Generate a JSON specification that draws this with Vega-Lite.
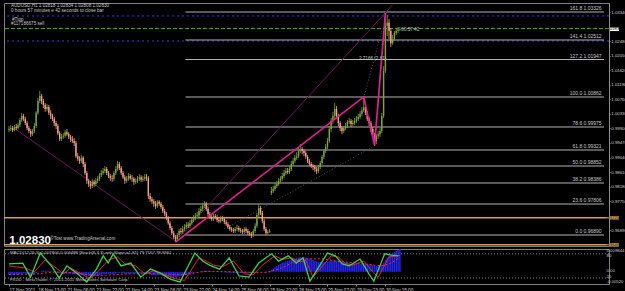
{
"$schema": "https://vega.github.io/schema/vega-lite/v6.json",
"background": "#000000",
"padding": {"left": 2, "top": 2, "right": 0, "bottom": 0},
"spacing": 3,
"bounds": "flush",
"config": {
  "view": {"stroke": "#808080", "strokeWidth": 1},
  "axis": {"labelFont": "Liberation Sans", "labelFontSize": 4.6, "labelColor": "#d0d0d0", "domainColor": "#909090", "tickColor": "#909090", "tickSize": 1.5, "grid": false, "labelPadding": 1, "labelOverlap": false, "labelBound": false},
  "axisY": {"labelFontSize": 4.3, "tickSize": 1, "labelPadding": 0.8},
  "text": {"font": "Liberation Sans", "fontSize": 5, "color": "#d0d0d0"}
},
"datasets": {
  "bars": [
{"i":0,"o":0.9985,"h":0.9997,"l":0.9979,"c":0.9988,"m":-0.0014},
{"i":1,"o":0.9988,"h":1.0000,"l":0.9982,"c":0.9991,"m":-0.0015},
{"i":2,"o":0.9991,"h":0.9997,"l":0.9979,"c":0.9985,"m":-0.0015},
{"i":3,"o":0.9985,"h":1.0000,"l":0.9982,"c":0.9994,"m":-0.0014},
{"i":4,"o":0.9994,"h":1.0003,"l":0.9985,"c":0.9991,"m":-0.0013},
{"i":5,"o":0.9991,"h":1.0006,"l":0.9988,"c":1.0000,"m":-0.0012},
{"i":6,"o":1.0000,"h":1.0021,"l":0.9994,"c":1.0015,"m":-0.0010},
{"i":7,"o":1.0015,"h":1.0036,"l":1.0009,"c":1.0027,"m":-0.0008},
{"i":8,"o":1.0027,"h":1.0033,"l":1.0012,"c":1.0018,"m":-0.0007},
{"i":9,"o":1.0018,"h":1.0024,"l":1.0000,"c":1.0006,"m":-0.0007},
{"i":10,"o":1.0006,"h":1.0012,"l":0.9985,"c":0.9991,"m":-0.0008},
{"i":11,"o":0.9991,"h":0.9997,"l":0.9976,"c":0.9982,"m":-0.0009},
{"i":12,"o":0.9982,"h":0.9988,"l":0.9965,"c":0.9973,"m":-0.0010},
{"i":13,"o":0.9973,"h":0.9988,"l":0.9968,"c":0.9982,"m":-0.0010},
{"i":14,"o":0.9982,"h":1.0006,"l":0.9976,"c":0.9997,"m":-0.0009},
{"i":15,"o":0.9997,"h":1.0041,"l":0.9991,"c":1.0036,"m":-0.0006},
{"i":16,"o":1.0036,"h":1.0080,"l":1.0030,"c":1.0071,"m":-0.0002},
{"i":17,"o":1.0071,"h":1.0101,"l":1.0065,"c":1.0086,"m":0.0002},
{"i":18,"o":1.0086,"h":1.0092,"l":1.0062,"c":1.0071,"m":0.0004},
{"i":19,"o":1.0071,"h":1.0077,"l":1.0050,"c":1.0059,"m":0.0005},
{"i":20,"o":1.0059,"h":1.0065,"l":1.0039,"c":1.0047,"m":0.0005},
{"i":21,"o":1.0047,"h":1.0062,"l":1.0041,"c":1.0053,"m":0.0005},
{"i":22,"o":1.0053,"h":1.0059,"l":1.0030,"c":1.0036,"m":0.0004},
{"i":23,"o":1.0036,"h":1.0044,"l":1.0018,"c":1.0027,"m":0.0003},
{"i":24,"o":1.0027,"h":1.0033,"l":1.0012,"c":1.0018,"m":0.0002},
{"i":25,"o":1.0018,"h":1.0024,"l":0.9997,"c":1.0006,"m":0.0000},
{"i":26,"o":1.0006,"h":1.0012,"l":0.9988,"c":0.9997,"m":-0.0002},
{"i":27,"o":0.9997,"h":1.0003,"l":0.9971,"c":0.9976,"m":-0.0004},
{"i":28,"o":0.9976,"h":0.9982,"l":0.9953,"c":0.9959,"m":-0.0006},
{"i":29,"o":0.9959,"h":0.9973,"l":0.9953,"c":0.9965,"m":-0.0007},
{"i":30,"o":0.9965,"h":0.9976,"l":0.9959,"c":0.9968,"m":-0.0008},
{"i":31,"o":0.9968,"h":0.9985,"l":0.9962,"c":0.9979,"m":-0.0008},
{"i":32,"o":0.9979,"h":0.9988,"l":0.9968,"c":0.9973,"m":-0.0008},
{"i":33,"o":0.9973,"h":0.9979,"l":0.9959,"c":0.9965,"m":-0.0008},
{"i":34,"o":0.9965,"h":0.9971,"l":0.9950,"c":0.9959,"m":-0.0008},
{"i":35,"o":0.9959,"h":0.9968,"l":0.9947,"c":0.9953,"m":-0.0009},
{"i":36,"o":0.9953,"h":0.9962,"l":0.9938,"c":0.9947,"m":-0.0009},
{"i":37,"o":0.9947,"h":0.9953,"l":0.9903,"c":0.9908,"m":-0.0011},
{"i":38,"o":0.9908,"h":0.9917,"l":0.9894,"c":0.9900,"m":-0.0012},
{"i":39,"o":0.9900,"h":0.9908,"l":0.9885,"c":0.9894,"m":-0.0013},
{"i":40,"o":0.9894,"h":0.9911,"l":0.9888,"c":0.9903,"m":-0.0013},
{"i":41,"o":0.9903,"h":0.9908,"l":0.9876,"c":0.9885,"m":-0.0014},
{"i":42,"o":0.9885,"h":0.9891,"l":0.9852,"c":0.9858,"m":-0.0015},
{"i":43,"o":0.9858,"h":0.9864,"l":0.9826,"c":0.9835,"m":-0.0017},
{"i":44,"o":0.9835,"h":0.9841,"l":0.9817,"c":0.9826,"m":-0.0018},
{"i":45,"o":0.9826,"h":0.9835,"l":0.9811,"c":0.9820,"m":-0.0019},
{"i":46,"o":0.9820,"h":0.9841,"l":0.9814,"c":0.9832,"m":-0.0018},
{"i":47,"o":0.9832,"h":0.9838,"l":0.9817,"c":0.9826,"m":-0.0018},
{"i":48,"o":0.9826,"h":0.9843,"l":0.9820,"c":0.9835,"m":-0.0017},
{"i":49,"o":0.9835,"h":0.9849,"l":0.9829,"c":0.9841,"m":-0.0016},
{"i":50,"o":0.9841,"h":0.9858,"l":0.9835,"c":0.9852,"m":-0.0014},
{"i":51,"o":0.9852,"h":0.9867,"l":0.9846,"c":0.9858,"m":-0.0012},
{"i":52,"o":0.9858,"h":0.9873,"l":0.9852,"c":0.9864,"m":-0.0011},
{"i":53,"o":0.9864,"h":0.9879,"l":0.9858,"c":0.9870,"m":-0.0009},
{"i":54,"o":0.9870,"h":0.9876,"l":0.9852,"c":0.9858,"m":-0.0009},
{"i":55,"o":0.9858,"h":0.9864,"l":0.9843,"c":0.9849,"m":-0.0009},
{"i":56,"o":0.9849,"h":0.9855,"l":0.9835,"c":0.9843,"m":-0.0009},
{"i":57,"o":0.9843,"h":0.9852,"l":0.9832,"c":0.9841,"m":-0.0009},
{"i":58,"o":0.9841,"h":0.9864,"l":0.9835,"c":0.9858,"m":-0.0008},
{"i":59,"o":0.9858,"h":0.9879,"l":0.9852,"c":0.9870,"m":-0.0006},
{"i":60,"o":0.9870,"h":0.9894,"l":0.9864,"c":0.9885,"m":-0.0004},
{"i":61,"o":0.9885,"h":0.9891,"l":0.9867,"c":0.9873,"m":-0.0004},
{"i":62,"o":0.9873,"h":0.9879,"l":0.9852,"c":0.9858,"m":-0.0005},
{"i":63,"o":0.9858,"h":0.9864,"l":0.9841,"c":0.9846,"m":-0.0006},
{"i":64,"o":0.9846,"h":0.9852,"l":0.9826,"c":0.9835,"m":-0.0007},
{"i":65,"o":0.9835,"h":0.9849,"l":0.9829,"c":0.9841,"m":-0.0007},
{"i":66,"o":0.9841,"h":0.9858,"l":0.9835,"c":0.9849,"m":-0.0007},
{"i":67,"o":0.9849,"h":0.9855,"l":0.9838,"c":0.9843,"m":-0.0007},
{"i":68,"o":0.9843,"h":0.9852,"l":0.9832,"c":0.9841,"m":-0.0007},
{"i":69,"o":0.9841,"h":0.9846,"l":0.9823,"c":0.9832,"m":-0.0007},
{"i":70,"o":0.9832,"h":0.9843,"l":0.9826,"c":0.9835,"m":-0.0007},
{"i":71,"o":0.9835,"h":0.9849,"l":0.9829,"c":0.9841,"m":-0.0007},
{"i":72,"o":0.9841,"h":0.9855,"l":0.9835,"c":0.9846,"m":-0.0006},
{"i":73,"o":0.9846,"h":0.9852,"l":0.9832,"c":0.9838,"m":-0.0006},
{"i":74,"o":0.9838,"h":0.9849,"l":0.9832,"c":0.9841,"m":-0.0006},
{"i":75,"o":0.9841,"h":0.9855,"l":0.9835,"c":0.9846,"m":-0.0006},
{"i":76,"o":0.9846,"h":0.9855,"l":0.9835,"c":0.9843,"m":-0.0006},
{"i":77,"o":0.9843,"h":0.9849,"l":0.9781,"c":0.9790,"m":-0.0009},
{"i":78,"o":0.9790,"h":0.9799,"l":0.9773,"c":0.9781,"m":-0.0011},
{"i":79,"o":0.9781,"h":0.9787,"l":0.9767,"c":0.9775,"m":-0.0013},
{"i":80,"o":0.9775,"h":0.9781,"l":0.9758,"c":0.9767,"m":-0.0014},
{"i":81,"o":0.9767,"h":0.9775,"l":0.9752,"c":0.9761,"m":-0.0015},
{"i":82,"o":0.9761,"h":0.9778,"l":0.9755,"c":0.9773,"m":-0.0015},
{"i":83,"o":0.9773,"h":0.9778,"l":0.9761,"c":0.9767,"m":-0.0015},
{"i":84,"o":0.9767,"h":0.9773,"l":0.9752,"c":0.9758,"m":-0.0016},
{"i":85,"o":0.9758,"h":0.9764,"l":0.9740,"c":0.9746,"m":-0.0017},
{"i":86,"o":0.9746,"h":0.9752,"l":0.9731,"c":0.9737,"m":-0.0018},
{"i":87,"o":0.9737,"h":0.9743,"l":0.9719,"c":0.9725,"m":-0.0019},
{"i":88,"o":0.9725,"h":0.9731,"l":0.9705,"c":0.9710,"m":-0.0020},
{"i":89,"o":0.9710,"h":0.9716,"l":0.9690,"c":0.9696,"m":-0.0021},
{"i":90,"o":0.9696,"h":0.9702,"l":0.9675,"c":0.9681,"m":-0.0022},
{"i":91,"o":0.9681,"h":0.9687,"l":0.9663,"c":0.9669,"m":-0.0023},
{"i":92,"o":0.9669,"h":0.9675,"l":0.9654,"c":0.9663,"m":-0.0023},
{"i":93,"o":0.9663,"h":0.9681,"l":0.9657,"c":0.9675,"m":-0.0022},
{"i":94,"o":0.9675,"h":0.9693,"l":0.9669,"c":0.9687,"m":-0.0020},
{"i":95,"o":0.9687,"h":0.9696,"l":0.9678,"c":0.9684,"m":-0.0018},
{"i":96,"o":0.9684,"h":0.9702,"l":0.9678,"c":0.9693,"m":-0.0016},
{"i":97,"o":0.9693,"h":0.9707,"l":0.9687,"c":0.9699,"m":-0.0014},
{"i":98,"o":0.9699,"h":0.9713,"l":0.9693,"c":0.9705,"m":-0.0012},
{"i":99,"o":0.9705,"h":0.9713,"l":0.9696,"c":0.9702,"m":-0.0010},
{"i":100,"o":0.9702,"h":0.9719,"l":0.9696,"c":0.9710,"m":-0.0008},
{"i":101,"o":0.9710,"h":0.9728,"l":0.9705,"c":0.9719,"m":-0.0006},
{"i":102,"o":0.9719,"h":0.9734,"l":0.9713,"c":0.9725,"m":-0.0004},
{"i":103,"o":0.9725,"h":0.9740,"l":0.9719,"c":0.9731,"m":-0.0002},
{"i":104,"o":0.9731,"h":0.9743,"l":0.9725,"c":0.9734,"m":0.0000},
{"i":105,"o":0.9734,"h":0.9755,"l":0.9728,"c":0.9746,"m":0.0002},
{"i":106,"o":0.9746,"h":0.9761,"l":0.9740,"c":0.9752,"m":0.0003},
{"i":107,"o":0.9752,"h":0.9770,"l":0.9746,"c":0.9761,"m":0.0004},
{"i":108,"o":0.9761,"h":0.9775,"l":0.9755,"c":0.9767,"m":0.0005},
{"i":109,"o":0.9767,"h":0.9773,"l":0.9746,"c":0.9752,"m":0.0005},
{"i":110,"o":0.9752,"h":0.9758,"l":0.9731,"c":0.9737,"m":0.0004},
{"i":111,"o":0.9737,"h":0.9743,"l":0.9722,"c":0.9728,"m":0.0003},
{"i":112,"o":0.9728,"h":0.9734,"l":0.9716,"c":0.9722,"m":0.0002},
{"i":113,"o":0.9722,"h":0.9737,"l":0.9716,"c":0.9731,"m":0.0001},
{"i":114,"o":0.9731,"h":0.9737,"l":0.9722,"c":0.9728,"m":0.0000},
{"i":115,"o":0.9728,"h":0.9734,"l":0.9713,"c":0.9719,"m":-0.0001},
{"i":116,"o":0.9719,"h":0.9725,"l":0.9710,"c":0.9716,"m":-0.0001},
{"i":117,"o":0.9716,"h":0.9731,"l":0.9710,"c":0.9725,"m":-0.0002},
{"i":118,"o":0.9725,"h":0.9731,"l":0.9716,"c":0.9722,"m":-0.0002},
{"i":119,"o":0.9722,"h":0.9728,"l":0.9707,"c":0.9713,"m":-0.0002},
{"i":120,"o":0.9713,"h":0.9719,"l":0.9702,"c":0.9707,"m":-0.0003},
{"i":121,"o":0.9707,"h":0.9713,"l":0.9693,"c":0.9699,"m":-0.0003},
{"i":122,"o":0.9699,"h":0.9705,"l":0.9687,"c":0.9693,"m":-0.0004},
{"i":123,"o":0.9693,"h":0.9699,"l":0.9684,"c":0.9690,"m":-0.0004},
{"i":124,"o":0.9690,"h":0.9696,"l":0.9681,"c":0.9687,"m":-0.0005},
{"i":125,"o":0.9687,"h":0.9699,"l":0.9681,"c":0.9693,"m":-0.0005},
{"i":126,"o":0.9693,"h":0.9705,"l":0.9687,"c":0.9696,"m":-0.0005},
{"i":127,"o":0.9696,"h":0.9702,"l":0.9684,"c":0.9690,"m":-0.0005},
{"i":128,"o":0.9690,"h":0.9696,"l":0.9681,"c":0.9687,"m":-0.0005},
{"i":129,"o":0.9687,"h":0.9693,"l":0.9678,"c":0.9684,"m":-0.0005},
{"i":130,"o":0.9684,"h":0.9699,"l":0.9678,"c":0.9693,"m":-0.0005},
{"i":131,"o":0.9693,"h":0.9699,"l":0.9681,"c":0.9687,"m":-0.0005},
{"i":132,"o":0.9687,"h":0.9693,"l":0.9675,"c":0.9681,"m":-0.0005},
{"i":133,"o":0.9681,"h":0.9687,"l":0.9672,"c":0.9678,"m":-0.0005},
{"i":134,"o":0.9678,"h":0.9684,"l":0.9666,"c":0.9675,"m":-0.0005},
{"i":135,"o":0.9675,"h":0.9693,"l":0.9669,"c":0.9687,"m":-0.0005},
{"i":136,"o":0.9687,"h":0.9710,"l":0.9681,"c":0.9702,"m":-0.0004},
{"i":137,"o":0.9702,"h":0.9740,"l":0.9696,"c":0.9734,"m":-0.0002},
{"i":138,"o":0.9734,"h":0.9767,"l":0.9728,"c":0.9755,"m":0.0000},
{"i":139,"o":0.9755,"h":0.9761,"l":0.9734,"c":0.9740,"m":0.0001},
{"i":140,"o":0.9740,"h":0.9746,"l":0.9710,"c":0.9716,"m":0.0000},
{"i":141,"o":0.9716,"h":0.9722,"l":0.9687,"c":0.9693,"m":-0.0001},
{"i":142,"o":0.9693,"h":0.9699,"l":0.9675,"c":0.9681,"m":-0.0002},
{"i":143,"o":0.9681,"h":0.9690,"l":0.9678,"c":0.9684,"m":-0.0002},
{"i":144,"o":0.9684,"h":0.9693,"l":0.9681,"c":0.9687,"m":-0.0002},
{"i":145,"o":0.9799,"h":0.9817,"l":0.9793,"c":0.9805,"m":0.0008},
{"i":146,"o":0.9805,"h":0.9820,"l":0.9799,"c":0.9811,"m":0.0014},
{"i":147,"o":0.9811,"h":0.9829,"l":0.9805,"c":0.9820,"m":0.0020},
{"i":148,"o":0.9820,"h":0.9835,"l":0.9814,"c":0.9826,"m":0.0025},
{"i":149,"o":0.9826,"h":0.9843,"l":0.9820,"c":0.9835,"m":0.0030},
{"i":150,"o":0.9835,"h":0.9849,"l":0.9829,"c":0.9841,"m":0.0034},
{"i":151,"o":0.9841,"h":0.9858,"l":0.9835,"c":0.9849,"m":0.0038},
{"i":152,"o":0.9849,"h":0.9867,"l":0.9843,"c":0.9858,"m":0.0041},
{"i":153,"o":0.9858,"h":0.9873,"l":0.9852,"c":0.9864,"m":0.0044},
{"i":154,"o":0.9864,"h":0.9873,"l":0.9855,"c":0.9861,"m":0.0047},
{"i":155,"o":0.9861,"h":0.9879,"l":0.9855,"c":0.9870,"m":0.0050},
{"i":156,"o":0.9870,"h":0.9894,"l":0.9864,"c":0.9885,"m":0.0053},
{"i":157,"o":0.9885,"h":0.9903,"l":0.9879,"c":0.9894,"m":0.0056},
{"i":158,"o":0.9894,"h":0.9911,"l":0.9888,"c":0.9903,"m":0.0058},
{"i":159,"o":0.9903,"h":0.9920,"l":0.9897,"c":0.9908,"m":0.0060},
{"i":160,"o":0.9908,"h":0.9932,"l":0.9903,"c":0.9923,"m":0.0062},
{"i":161,"o":0.9923,"h":0.9944,"l":0.9917,"c":0.9929,"m":0.0063},
{"i":162,"o":0.9929,"h":0.9935,"l":0.9914,"c":0.9923,"m":0.0063},
{"i":163,"o":0.9923,"h":0.9929,"l":0.9908,"c":0.9917,"m":0.0062},
{"i":164,"o":0.9917,"h":0.9923,"l":0.9900,"c":0.9906,"m":0.0061},
{"i":165,"o":0.9906,"h":0.9911,"l":0.9888,"c":0.9894,"m":0.0059},
{"i":166,"o":0.9894,"h":0.9900,"l":0.9879,"c":0.9885,"m":0.0057},
{"i":167,"o":0.9885,"h":0.9891,"l":0.9873,"c":0.9879,"m":0.0054},
{"i":168,"o":0.9879,"h":0.9885,"l":0.9867,"c":0.9876,"m":0.0051},
{"i":169,"o":0.9876,"h":0.9882,"l":0.9861,"c":0.9870,"m":0.0048},
{"i":170,"o":0.9870,"h":0.9876,"l":0.9855,"c":0.9864,"m":0.0045},
{"i":171,"o":0.9864,"h":0.9882,"l":0.9858,"c":0.9876,"m":0.0043},
{"i":172,"o":0.9876,"h":0.9894,"l":0.9870,"c":0.9888,"m":0.0042},
{"i":173,"o":0.9888,"h":0.9911,"l":0.9882,"c":0.9906,"m":0.0041},
{"i":174,"o":0.9906,"h":0.9929,"l":0.9900,"c":0.9923,"m":0.0041},
{"i":175,"o":0.9923,"h":0.9944,"l":0.9917,"c":0.9935,"m":0.0042},
{"i":176,"o":0.9935,"h":0.9962,"l":0.9929,"c":0.9953,"m":0.0043},
{"i":177,"o":0.9953,"h":0.9997,"l":0.9947,"c":0.9988,"m":0.0045},
{"i":178,"o":0.9988,"h":1.0021,"l":0.9979,"c":1.0012,"m":0.0047},
{"i":179,"o":1.0012,"h":1.0039,"l":1.0003,"c":1.0027,"m":0.0049},
{"i":180,"o":1.0027,"h":1.0065,"l":1.0018,"c":1.0047,"m":0.0050},
{"i":181,"o":1.0047,"h":1.0056,"l":1.0018,"c":1.0027,"m":0.0049},
{"i":182,"o":1.0027,"h":1.0033,"l":0.9997,"c":1.0006,"m":0.0047},
{"i":183,"o":1.0006,"h":1.0012,"l":0.9982,"c":0.9991,"m":0.0045},
{"i":184,"o":0.9991,"h":0.9997,"l":0.9973,"c":0.9982,"m":0.0043},
{"i":185,"o":0.9982,"h":0.9997,"l":0.9976,"c":0.9991,"m":0.0041},
{"i":186,"o":0.9991,"h":1.0006,"l":0.9985,"c":0.9997,"m":0.0039},
{"i":187,"o":0.9997,"h":1.0015,"l":0.9991,"c":1.0009,"m":0.0038},
{"i":188,"o":1.0009,"h":1.0021,"l":1.0003,"c":1.0012,"m":0.0037},
{"i":189,"o":1.0012,"h":1.0018,"l":0.9994,"c":1.0003,"m":0.0036},
{"i":190,"o":1.0003,"h":1.0015,"l":0.9997,"c":1.0006,"m":0.0035},
{"i":191,"o":1.0006,"h":1.0021,"l":1.0000,"c":1.0012,"m":0.0035},
{"i":192,"o":1.0012,"h":1.0027,"l":1.0006,"c":1.0018,"m":0.0035},
{"i":193,"o":1.0018,"h":1.0033,"l":1.0012,"c":1.0024,"m":0.0035},
{"i":194,"o":1.0024,"h":1.0041,"l":1.0018,"c":1.0033,"m":0.0035},
{"i":195,"o":1.0033,"h":1.0053,"l":1.0027,"c":1.0044,"m":0.0036},
{"i":196,"o":1.0044,"h":1.0083,"l":1.0039,"c":1.0053,"m":0.0037},
{"i":197,"o":1.0053,"h":1.0059,"l":1.0030,"c":1.0036,"m":0.0036},
{"i":198,"o":1.0036,"h":1.0041,"l":1.0012,"c":1.0018,"m":0.0034},
{"i":199,"o":1.0018,"h":1.0024,"l":0.9997,"c":1.0006,"m":0.0032},
{"i":200,"o":1.0006,"h":1.0012,"l":0.9979,"c":0.9988,"m":0.0030},
{"i":201,"o":0.9988,"h":0.9994,"l":0.9962,"c":0.9971,"m":0.0028},
{"i":202,"o":0.9971,"h":0.9976,"l":0.9938,"c":0.9953,"m":0.0026},
{"i":203,"o":0.9953,"h":0.9973,"l":0.9944,"c":0.9968,"m":0.0025},
{"i":204,"o":0.9968,"h":0.9982,"l":0.9959,"c":0.9973,"m":0.0025},
{"i":205,"o":0.9973,"h":0.9991,"l":0.9965,"c":0.9982,"m":0.0026},
{"i":206,"o":0.9982,"h":1.0036,"l":0.9976,"c":1.0027,"m":0.0030},
{"i":207,"o":1.0027,"h":1.0174,"l":1.0021,"c":1.0160,"m":0.0040},
{"i":208,"o":1.0160,"h":1.0331,"l":1.0154,"c":1.0293,"m":0.0052},
{"i":209,"o":1.0293,"h":1.0325,"l":1.0263,"c":1.0302,"m":0.0062},
{"i":210,"o":1.0302,"h":1.0313,"l":1.0254,"c":1.0278,"m":0.0070},
{"i":211,"o":1.0278,"h":1.0287,"l":1.0231,"c":1.0242,"m":0.0076},
{"i":212,"o":1.0242,"h":1.0266,"l":1.0237,"c":1.0254,"m":0.0082},
{"i":213,"o":1.0254,"h":1.0278,"l":1.0248,"c":1.0272,"m":0.0086},
{"i":214,"o":1.0272,"h":1.0287,"l":1.0266,"c":1.0278,"m":0.0090},
{"i":215,"o":1.0278,"h":1.0290,"l":1.0272,"c":1.0281,"m":0.0094},
{"i":216,"o":1.0281,"h":1.0290,"l":1.0278,"c":1.0283,"m":0.0097}
  ],
  "fib": [
    {"p":1.0334,"t":"161.8  1.03326"},
    {"p":1.02513,"t":"141.4  1.02512"},
    {"p":1.01936,"t":"127.2  1.01947"},
    {"p":1.00828,"t":"100.0  1.00862"},
    {"p":0.99942,"t":"78.6  0.99975"},
    {"p":0.99262,"t":"61.8  0.99321"},
    {"p":0.98789,"t":"50.0  0.98852"},
    {"p":0.98287,"t":"38.2  0.98386"},
    {"p":0.97666,"t":"23.6  0.97806"},
    {"p":0.9675,"t":"0.0  0.96890"}
  ],
  "zig": [
    {"i":92,"p":0.9654},
    {"i":196,"p":1.0083},
    {"i":202,"p":0.9940},
    {"i":208,"p":1.0331}
  ],
  "thin": [
    {"g":"a","i":3.5,"p":0.9988},
    {"g":"a","i":92,"p":0.9657},
    {"g":"b","i":92,"p":0.9657},
    {"g":"b","i":212,"p":1.0355}
  ],
  "dots": [
    {"g":"c","i":119,"p":0.9693},
    {"g":"c","i":202,"p":0.9938},
    {"g":"d","i":196,"p":1.0080},
    {"g":"d","i":206,"p":1.0278}
  ],
  "kline": [
    {"i":0,"v":55},{"i":7.6,"v":57},{"i":11.9,"v":22},{"i":17.3,"v":82},{"i":23.9,"v":47},{"i":27.7,"v":20},{"i":32,"v":50},{"i":37.5,"v":32},{"i":42.9,"v":10},{"i":48.3,"v":42},{"i":52.1,"v":75},{"i":54.8,"v":57},{"i":57.6,"v":80},{"i":61.9,"v":50},{"i":67.3,"v":57},{"i":72.8,"v":22},{"i":78.2,"v":42},{"i":83.7,"v":32},{"i":89.1,"v":17},{"i":94.5,"v":10},{"i":102.7,"v":82},{"i":107,"v":62},{"i":110.8,"v":52},{"i":116.3,"v":42},{"i":121.7,"v":70},{"i":127.1,"v":25},{"i":132.6,"v":22},{"i":138,"v":57},{"i":145.1,"v":80},{"i":148.9,"v":62},{"i":154.3,"v":75},{"i":158.7,"v":57},{"i":162.5,"v":70},{"i":166.3,"v":12},{"i":176,"v":82},{"i":180.4,"v":75},{"i":184.2,"v":55},{"i":188,"v":50},{"i":194,"v":67},{"i":198.9,"v":30},{"i":201.6,"v":12},{"i":207.6,"v":80},{"i":211.4,"v":77},{"i":215.2,"v":75}
  ],
  "dline": [
    {"i":0,"v":50},{"i":9,"v":45},{"i":14,"v":35},{"i":20,"v":65},{"i":26,"v":45},{"i":30,"v":30},{"i":34,"v":45},{"i":40,"v":30},{"i":45,"v":18},{"i":50,"v":40},{"i":55,"v":65},{"i":60,"v":72},{"i":64,"v":55},{"i":70,"v":50},{"i":75,"v":30},{"i":80,"v":38},{"i":86,"v":28},{"i":92,"v":18},{"i":97,"v":14},{"i":105,"v":70},{"i":109,"v":62},{"i":113,"v":52},{"i":118,"v":48},{"i":124,"v":62},{"i":130,"v":30},{"i":135,"v":28},{"i":140,"v":52},{"i":147,"v":75},{"i":151,"v":66},{"i":156,"v":70},{"i":161,"v":60},{"i":164,"v":64},{"i":168,"v":22},{"i":178,"v":75},{"i":182,"v":72},{"i":186,"v":56},{"i":190,"v":52},{"i":196,"v":62},{"i":201,"v":35},{"i":204,"v":22},{"i":210,"v":72},{"i":216,"v":76}
  ],
  "sig": [
    {"i":0,"m":-0.0011},{"i":15,"m":-0.0009},{"i":25,"m":-0.0001},{"i":35,"m":-0.0005},{"i":50,"m":-0.0015},{"i":65,"m":-0.0009},{"i":80,"m":-0.0008},{"i":95,"m":-0.0012},{"i":110,"m":0.0002},{"i":125,"m":0.0000},{"i":140,"m":-0.0003},{"i":150,"m":0.0015},{"i":162,"m":0.0055},{"i":172,"m":0.0056},{"i":180,"m":0.0047},{"i":195,"m":0.0036},{"i":205,"m":0.0027},{"i":210,"m":0.0035},{"i":216,"m":0.0062}
  ]
},
"vconcat": [
{
  "width": 605, "height": 243,
  "layer": [
    {
      "data": {"values": [{"p":0.9726},{"p":0.9646}]},
      "mark": {"type": "rule", "color": "#d8a048", "strokeWidth": 1.5},
      "encoding": {"y": {"field": "p", "type": "quantitative", "scale": {"domain": [0.96425, 1.03606], "nice": false, "zero": false},
        "axis": {"orient": "right", "title": null, "values": [0.9689, 0.9775, 0.9818, 0.9861, 0.9904, 0.9947, 0.999, 1.0033, 1.0076, 1.0119, 1.0162, 1.0205, 1.0248, 1.0334], "format": ".5f"}}}
    },
    {
      "data": {"values": [{"p":1.03222},{"p":1.02483}]},
      "mark": {"type": "rule", "color": "#3a3ae0", "strokeWidth": 1, "strokeDash": [2, 3]},
      "encoding": {"y": {"field": "p", "type": "quantitative", "scale": {"domain": [0.96425, 1.03606], "nice": false, "zero": false},
        "axis": {"orient": "right", "title": null, "values": [0.9689, 0.9775, 0.9818, 0.9861, 0.9904, 0.9947, 0.999, 1.0033, 1.0076, 1.0119, 1.0162, 1.0205, 1.0248, 1.0334], "format": ".5f"}}}
    },
    {
      "data": {"values": [{"p":1.0285}]},
      "mark": {"type": "rule", "color": "#38b838", "strokeWidth": 1, "strokeDash": [4, 2]},
      "encoding": {"y": {"field": "p", "type": "quantitative", "scale": {"domain": [0.96425, 1.03606], "nice": false, "zero": false},
        "axis": {"orient": "right", "title": null, "values": [0.9689, 0.9775, 0.9818, 0.9861, 0.9904, 0.9947, 0.999, 1.0033, 1.0076, 1.0119, 1.0162, 1.0205, 1.0248, 1.0334], "format": ".5f"}}}
    },
    {
      "data": {"name": "fib"},
      "mark": {"type": "rule", "color": "#b4b4b4", "strokeWidth": 1},
      "encoding": {
        "x": {"datum": 97.5, "type": "quantitative", "scale": {"domain": [0, 328.8], "nice": false, "zero": false}, "axis": null},
        "x2": {"datum": 328.8},
        "y": {"field": "p", "type": "quantitative", "scale": {"domain": [0.96425, 1.03606], "nice": false, "zero": false},
          "axis": {"orient": "right", "title": null, "values": [0.9689, 0.9775, 0.9818, 0.9861, 0.9904, 0.9947, 0.999, 1.0033, 1.0076, 1.0119, 1.0162, 1.0205, 1.0248, 1.0334], "format": ".5f"}}
      }
    },
    {
      "data": {"name": "fib"},
      "mark": {"type": "text", "align": "right", "baseline": "bottom", "dy": -1, "fontSize": 5, "color": "#c8c8c8"},
      "encoding": {
        "x": {"datum": 327.5, "type": "quantitative", "scale": {"domain": [0, 328.8], "nice": false, "zero": false}, "axis": null},
        "y": {"field": "p", "type": "quantitative", "scale": {"domain": [0.96425, 1.03606], "nice": false, "zero": false},
          "axis": {"orient": "right", "title": null, "values": [0.9689, 0.9775, 0.9818, 0.9861, 0.9904, 0.9947, 0.999, 1.0033, 1.0076, 1.0119, 1.0162, 1.0205, 1.0248, 1.0334], "format": ".5f"}},
        "text": {"field": "t"}
      }
    },
    {
      "data": {"name": "thin"},
      "mark": {"type": "line", "color": "#6a1a5e", "strokeWidth": 1},
      "encoding": {
        "x": {"field": "i", "type": "quantitative", "scale": {"domain": [0, 328.8], "nice": false, "zero": false}, "axis": null},
        "y": {"field": "p", "type": "quantitative", "scale": {"domain": [0.96425, 1.03606], "nice": false, "zero": false},
          "axis": {"orient": "right", "title": null, "values": [0.9689, 0.9775, 0.9818, 0.9861, 0.9904, 0.9947, 0.999, 1.0033, 1.0076, 1.0119, 1.0162, 1.0205, 1.0248, 1.0334], "format": ".5f"}},
        "detail": {"field": "g"}
      }
    },
    {
      "data": {"name": "dots"},
      "mark": {"type": "line", "color": "#3c6078", "strokeWidth": 1, "strokeDash": [1, 2]},
      "encoding": {
        "x": {"field": "i", "type": "quantitative", "scale": {"domain": [0, 328.8], "nice": false, "zero": false}, "axis": null},
        "y": {"field": "p", "type": "quantitative", "scale": {"domain": [0.96425, 1.03606], "nice": false, "zero": false},
          "axis": {"orient": "right", "title": null, "values": [0.9689, 0.9775, 0.9818, 0.9861, 0.9904, 0.9947, 0.999, 1.0033, 1.0076, 1.0119, 1.0162, 1.0205, 1.0248, 1.0334], "format": ".5f"}},
        "detail": {"field": "g"}
      }
    },
    {
      "data": {"name": "bars"},
      "mark": {"type": "rule", "strokeWidth": 0.9},
      "encoding": {
        "x": {"field": "i", "type": "quantitative", "scale": {"domain": [0, 328.8], "nice": false, "zero": false}, "axis": null},
        "y": {"field": "l", "type": "quantitative", "scale": {"domain": [0.96425, 1.03606], "nice": false, "zero": false},
          "axis": {"orient": "right", "title": null, "values": [0.9689, 0.9775, 0.9818, 0.9861, 0.9904, 0.9947, 0.999, 1.0033, 1.0076, 1.0119, 1.0162, 1.0205, 1.0248, 1.0334], "format": ".5f"}},
        "y2": {"field": "h"},
        "color": {"condition": {"test": "datum.c >= datum.o", "value": "#6f9a2a"}, "value": "#f0917a"}
      }
    },
    {
      "data": {"name": "bars"},
      "mark": {"type": "bar", "width": 1.4, "orient": "vertical"},
      "encoding": {
        "x": {"field": "i", "type": "quantitative", "scale": {"domain": [0, 328.8], "nice": false, "zero": false}, "axis": null},
        "y": {"field": "o", "type": "quantitative", "scale": {"domain": [0.96425, 1.03606], "nice": false, "zero": false},
          "axis": {"orient": "right", "title": null, "values": [0.9689, 0.9775, 0.9818, 0.9861, 0.9904, 0.9947, 0.999, 1.0033, 1.0076, 1.0119, 1.0162, 1.0205, 1.0248, 1.0334], "format": ".5f"}},
        "y2": {"field": "c"},
        "color": {"condition": {"test": "datum.c >= datum.o", "value": "#7aa830"}, "value": "#f6a08a"}
      }
    },
    {
      "data": {"name": "zig"},
      "mark": {"type": "line", "color": "#e0208e", "strokeWidth": 1.7},
      "encoding": {
        "x": {"field": "i", "type": "quantitative", "scale": {"domain": [0, 328.8], "nice": false, "zero": false}, "axis": null},
        "y": {"field": "p", "type": "quantitative", "scale": {"domain": [0.96425, 1.03606], "nice": false, "zero": false},
          "axis": {"orient": "right", "title": null, "values": [0.9689, 0.9775, 0.9818, 0.9861, 0.9904, 0.9947, 0.999, 1.0033, 1.0076, 1.0119, 1.0162, 1.0205, 1.0248, 1.0334], "format": ".5f"}}
      }
    },
    {
      "data": {"values": [
        {"i":1.1,"p":1.03517,"t":"AUDUSD,H1  1.02818 1.02834 1.02808 1.02830"},
        {"i":1.1,"p":1.03355,"t":"0 hours 57 minutes e 42 seconds to close bar"},
        {"i":1.6,"p":1.03089,"t":"#Ttop"},
        {"i":1.1,"p":1.02971,"t":"#117186675 sell"},
        {"i":22.8,"p":0.96632,"t":"©Tost www.TradingArsenal.com"},
        {"i":193.4,"p":1.01951,"t":"2.7166 (2.61)"},
        {"i":216.8,"p":1.02808,"t":"00:57:42"}
      ]},
      "mark": {"type": "text", "align": "left", "baseline": "middle", "fontSize": 4.6, "color": "#c8c8c8"},
      "encoding": {
        "x": {"field": "i", "type": "quantitative", "scale": {"domain": [0, 328.8], "nice": false, "zero": false}, "axis": null},
        "y": {"field": "p", "type": "quantitative", "scale": {"domain": [0.96425, 1.03606], "nice": false, "zero": false},
          "axis": {"orient": "right", "title": null, "values": [0.9689, 0.9775, 0.9818, 0.9861, 0.9904, 0.9947, 0.999, 1.0033, 1.0076, 1.0119, 1.0162, 1.0205, 1.0248, 1.0334], "format": ".5f"}},
        "text": {"field": "t"}
      }
    },
    {
      "data": {"values": [{"i":0.2,"p":0.96484,"t":"1.02830"}]},
      "mark": {"type": "text", "align": "left", "baseline": "alphabetic", "fontSize": 11.5, "fontWeight": "bold", "color": "#ffffff"},
      "encoding": {
        "x": {"field": "i", "type": "quantitative", "scale": {"domain": [0, 328.8], "nice": false, "zero": false}, "axis": null},
        "y": {"field": "p", "type": "quantitative", "scale": {"domain": [0.96425, 1.03606], "nice": false, "zero": false},
          "axis": {"orient": "right", "title": null, "values": [0.9689, 0.9775, 0.9818, 0.9861, 0.9904, 0.9947, 0.999, 1.0033, 1.0076, 1.0119, 1.0162, 1.0205, 1.0248, 1.0334], "format": ".5f"}},
        "text": {"field": "t"}
      }
    },
    {
      "data": {"values": [{"p":1.0283,"k":"bid"},{"p":0.9726,"k":"line"},{"p":0.9646,"k":"line"}]},
      "mark": {"type": "point", "shape": "M-1,-0.4L1,-0.4L1,0.4L-1,0.4Z", "filled": true, "size": 80, "opacity": 1},
      "encoding": {
        "x": {"datum": 334.6, "type": "quantitative", "scale": {"domain": [0, 328.8], "nice": false, "zero": false}, "axis": null},
        "y": {"field": "p", "type": "quantitative", "scale": {"domain": [0.96425, 1.03606], "nice": false, "zero": false},
          "axis": {"orient": "right", "title": null, "values": [0.9689, 0.9775, 0.9818, 0.9861, 0.9904, 0.9947, 0.999, 1.0033, 1.0076, 1.0119, 1.0162, 1.0205, 1.0248, 1.0334], "format": ".5f"}},
        "color": {"field": "k", "type": "nominal", "scale": {"domain": ["bid", "line"], "range": ["#ffffff", "#d8a048"]}, "legend": null}
      }
    },
    {
      "data": {"values": [{"p":1.0283,"t":"1.02830"},{"p":0.9726,"t":"0.97260"},{"p":0.9646,"t":"0.96460"}]},
      "mark": {"type": "text", "align": "left", "baseline": "middle", "fontSize": 4.3, "color": "#000000"},
      "encoding": {
        "x": {"datum": 330.0, "type": "quantitative", "scale": {"domain": [0, 328.8], "nice": false, "zero": false}, "axis": null},
        "y": {"field": "p", "type": "quantitative", "scale": {"domain": [0.96425, 1.03606], "nice": false, "zero": false},
          "axis": {"orient": "right", "title": null, "values": [0.9689, 0.9775, 0.9818, 0.9861, 0.9904, 0.9947, 0.999, 1.0033, 1.0076, 1.0119, 1.0162, 1.0205, 1.0248, 1.0334], "format": ".5f"}},
        "text": {"field": "t"}
      }
    }
  ]
},
{
  "width": 605, "height": 35,
  "resolve": {"scale": {"y": "independent"}},
  "layer": [
    {
      "data": {"values": [{"v":80},{"v":20}]},
      "mark": {"type": "rule", "color": "#8a8a8a", "strokeWidth": 1, "strokeDash": [1, 2]},
      "encoding": {"y": {"field": "v", "type": "quantitative", "scale": {"domain": [5, 92], "nice": false, "zero": false}, "axis": null}}
    },
    {
      "data": {"name": "bars"},
      "mark": {"type": "bar", "width": 1.5, "orient": "vertical", "color": "#2424f0"},
      "encoding": {
        "x": {"field": "i", "type": "quantitative", "scale": {"domain": [0, 328.8], "nice": false, "zero": false},
              "axis": {"title": null, "orient": "bottom", "domain": false, "values": [0,16,32,48,64,80,96,112,128,144,160,176,192,208], "labelAlign": "left", "labelPadding": 1, "tickSize": 2,
                       "labelExpr": "['17 Nov 2011','18 Nov 13:00','21 Nov 06:00','21 Nov 22:00','22 Nov 14:00','23 Nov 06:00','23 Nov 22:00','24 Nov 14:00','25 Nov 06:00','25 Nov 22:00','28 Nov 15:00','29 Nov 07:00','29 Nov 23:00','30 Nov 15:00'][round(datum.value/16)]"}},
        "y": {"field": "m", "type": "quantitative", "scale": {"domain": [-0.0052, 0.0098], "nice": false, "zero": false}, "axis": null},
        "y2": {"datum": 0}
      }
    },
    {
      "data": {"name": "sig"},
      "mark": {"type": "line", "color": "#ff2a2a", "strokeWidth": 1, "strokeDash": [2, 2], "interpolate": "monotone"},
      "encoding": {
        "x": {"field": "i", "type": "quantitative", "scale": {"domain": [0, 328.8], "nice": false, "zero": false},
              "axis": {"title": null, "orient": "bottom", "domain": false, "values": [0,16,32,48,64,80,96,112,128,144,160,176,192,208], "labelAlign": "left", "labelPadding": 1, "tickSize": 2,
                       "labelExpr": "['17 Nov 2011','18 Nov 13:00','21 Nov 06:00','21 Nov 22:00','22 Nov 14:00','23 Nov 06:00','23 Nov 22:00','24 Nov 14:00','25 Nov 06:00','25 Nov 22:00','28 Nov 15:00','29 Nov 07:00','29 Nov 23:00','30 Nov 15:00'][round(datum.value/16)]"}},
        "y": {"field": "m", "type": "quantitative", "scale": {"domain": [-0.0052, 0.0098], "nice": false, "zero": false}, "axis": null}
      }
    },
    {
      "data": {"name": "dline"},
      "mark": {"type": "line", "color": "#e02a2a", "strokeWidth": 1},
      "encoding": {
        "x": {"field": "i", "type": "quantitative", "scale": {"domain": [0, 328.8], "nice": false, "zero": false},
              "axis": {"title": null, "orient": "bottom", "domain": false, "values": [0,16,32,48,64,80,96,112,128,144,160,176,192,208], "labelAlign": "left", "labelPadding": 1, "tickSize": 2,
                       "labelExpr": "['17 Nov 2011','18 Nov 13:00','21 Nov 06:00','21 Nov 22:00','22 Nov 14:00','23 Nov 06:00','23 Nov 22:00','24 Nov 14:00','25 Nov 06:00','25 Nov 22:00','28 Nov 15:00','29 Nov 07:00','29 Nov 23:00','30 Nov 15:00'][round(datum.value/16)]"}},
        "y": {"field": "v", "type": "quantitative", "scale": {"domain": [5, 92], "nice": false, "zero": false}, "axis": null}
      }
    },
    {
      "data": {"name": "kline"},
      "mark": {"type": "line", "color": "#3ed23e", "strokeWidth": 1.3},
      "encoding": {
        "x": {"field": "i", "type": "quantitative", "scale": {"domain": [0, 328.8], "nice": false, "zero": false},
              "axis": {"title": null, "orient": "bottom", "domain": false, "values": [0,16,32,48,64,80,96,112,128,144,160,176,192,208], "labelAlign": "left", "labelPadding": 1, "tickSize": 2,
                       "labelExpr": "['17 Nov 2011','18 Nov 13:00','21 Nov 06:00','21 Nov 22:00','22 Nov 14:00','23 Nov 06:00','23 Nov 22:00','24 Nov 14:00','25 Nov 06:00','25 Nov 22:00','28 Nov 15:00','29 Nov 07:00','29 Nov 23:00','30 Nov 15:00'][round(datum.value/16)]"}},
        "y": {"field": "v", "type": "quantitative", "scale": {"domain": [5, 92], "nice": false, "zero": false}, "axis": null}
      }
    },
    {
      "data": {"values": [
        {"i":0.5,"m":0.00809,"t":"MACD(12,26,9) 0.007806 0.006488   [Stoch(8,3,3) with Slope =1.81] 79.7167 78.9362"},
        {"i":0.5,"m":-0.00349,"t":"FXDD - MetaTrader, © 2001-2011 MetaQuotes Software Corp."},
        {"i":330.2,"m":0.0091,"t":"0.009844"},
        {"i":330.2,"m":0.0066,"t":"80"},
        {"i":330.2,"m":0.0002,"t":"0.00"},
        {"i":330.2,"m":-0.0021,"t":"20"},
        {"i":330.2,"m":-0.0043,"t":"-0.00520"}
      ]},
      "mark": {"type": "text", "align": "left", "baseline": "middle", "fontSize": 4.3, "color": "#c8c8c8"},
      "encoding": {
        "x": {"field": "i", "type": "quantitative", "scale": {"domain": [0, 328.8], "nice": false, "zero": false},
              "axis": {"title": null, "orient": "bottom", "domain": false, "values": [0,16,32,48,64,80,96,112,128,144,160,176,192,208], "labelAlign": "left", "labelPadding": 1, "tickSize": 2,
                       "labelExpr": "['17 Nov 2011','18 Nov 13:00','21 Nov 06:00','21 Nov 22:00','22 Nov 14:00','23 Nov 06:00','23 Nov 22:00','24 Nov 14:00','25 Nov 06:00','25 Nov 22:00','28 Nov 15:00','29 Nov 07:00','29 Nov 23:00','30 Nov 15:00'][round(datum.value/16)]"}},
        "y": {"field": "m", "type": "quantitative", "scale": {"domain": [-0.0052, 0.0098], "nice": false, "zero": false}, "axis": null},
        "text": {"field": "t"}
      }
    }
  ]
}
]
}
